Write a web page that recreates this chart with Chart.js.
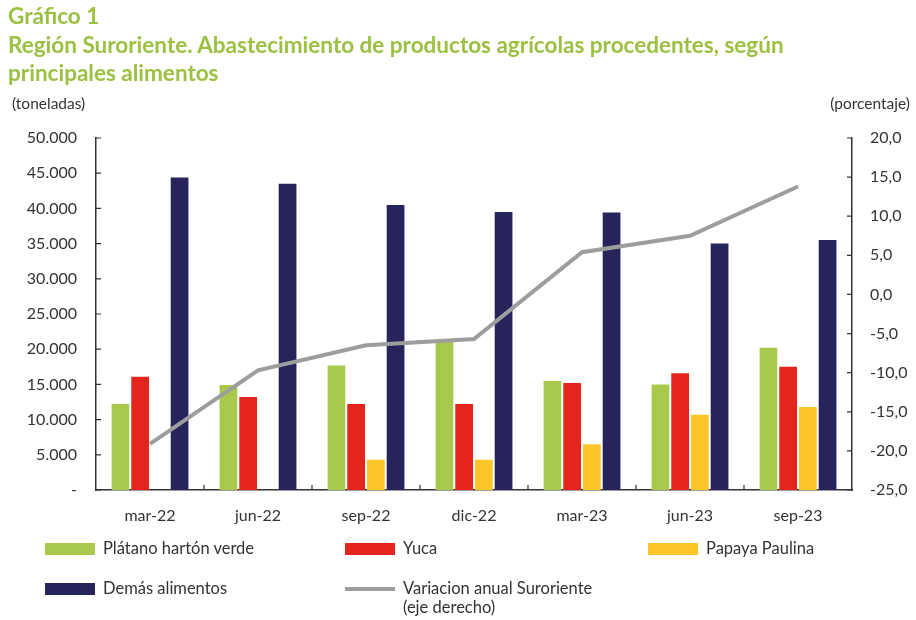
<!DOCTYPE html>
<html>
<head>
<meta charset="utf-8">
<script src="https://cdn.jsdelivr.net/npm/chart.js@4"></script>
<style>
  body { margin: 0; background: #fff; font-family: Lato, "Open Sans", sans-serif; }
  #wrap { position: relative; width: 916px; height: 620px; }
  #grafico { position: absolute; left: 0; top: 0; }
  .titulo { position: absolute; left: 8px; color: #9cc142; font-weight: bold; font-size: 22.5px; white-space: nowrap; }
  .ley { position: absolute; font-size: 16.5px; color: #333; white-space: nowrap; line-height: 19px; }
  .sw { position: absolute; width: 50px; height: 12px; }
</style>
</head>
<body>
<div id="wrap">
  <canvas id="grafico" width="916" height="620"></canvas>
  <div class="titulo" style="top:2px">Gráfico 1</div>
  <div class="titulo" style="top:31px">Región Suroriente. Abastecimiento de productos agrícolas procedentes, según</div>
  <div class="titulo" style="top:59px">principales alimentos</div>
  <div id="leyenda"></div>
</div>
<script>
  // datos
  const categorias = ['mar-22', 'jun-22', 'sep-22', 'dic-22', 'mar-23', 'jun-23', 'sep-23'];
  const platano = [12200, 14900, 17700, 21300, 15500, 15000, 20200];
  const yuca = [16100, 13200, 12200, 12200, 15200, 16600, 17500];
  const papaya = [0, 0, 4300, 4300, 6500, 10700, 11800];
  const demas = [44400, 43500, 40500, 39500, 39400, 35000, 35500];
  const variacion = [-19.1, -9.7, -6.5, -5.7, 5.4, 7.5, 13.8];

  const colores = {
    platano: '#a9c94c',
    yuca: '#e3251d',
    papaya: '#fcc62a',
    demas: '#27245c',
    variacion: '#9d9d9d'
  };

  // marcas cortas hacia dentro + textos de unidades
  const marcasInternas = {
    id: 'marcasInternas',
    afterDraw(chart) {
      const { ctx, chartArea: a, scales } = chart;
      ctx.save();
      ctx.strokeStyle = '#333';
      ctx.lineWidth = 1.2;
      ctx.beginPath();
      scales.y.ticks.forEach(t => {
        const y = scales.y.getPixelForValue(t.value);
        ctx.moveTo(a.left, y); ctx.lineTo(a.left + 5, y);
      });
      scales.y1.ticks.forEach(t => {
        const y = scales.y1.getPixelForValue(t.value);
        ctx.moveTo(a.right, y); ctx.lineTo(a.right - 5, y);
      });
      const paso = (a.right - a.left) / categorias.length;
      for (let i = 1; i < categorias.length; i++) {
        const x = a.left + i * paso;
        ctx.moveTo(x, a.bottom); ctx.lineTo(x, a.bottom - 5);
      }
      ctx.stroke();
      ctx.fillStyle = '#333';
      ctx.font = '15.5px Lato';
      ctx.textBaseline = 'middle';
      ctx.textAlign = 'left';
      ctx.fillText('(toneladas)', 12, 104);
      ctx.textAlign = 'right';
      ctx.fillText('(porcentaje)', 910, 104);
      ctx.restore();
    }
  };

  const ctx = document.getElementById('grafico').getContext('2d');
  new Chart(ctx, {
    data: {
      labels: categorias,
      datasets: [
        { type: 'line', label: 'Variacion anual Suroriente (eje derecho)', data: variacion, yAxisID: 'y1',
          borderColor: colores.variacion, borderWidth: 4, pointRadius: 0, tension: 0, order: 0 },
        { type: 'bar', label: 'Plátano hartón verde', data: platano, backgroundColor: colores.platano, yAxisID: 'y', order: 1 },
        { type: 'bar', label: 'Yuca', data: yuca, backgroundColor: colores.yuca, yAxisID: 'y', order: 1 },
        { type: 'bar', label: 'Papaya Paulina', data: papaya, backgroundColor: colores.papaya, yAxisID: 'y', order: 1 },
        { type: 'bar', label: 'Demás alimentos', data: demas, backgroundColor: colores.demas, yAxisID: 'y', order: 1 }
      ]
    },
    options: {
      responsive: false,
      animation: false,
      layout: { padding: { left: 0, right: 0, top: 138, bottom: 92 } },
      datasets: { bar: { categoryPercentage: 0.73, barPercentage: 0.9 } },
      plugins: {
        legend: { display: false },
        tooltip: { enabled: false }
      },
      scales: {
        x: {
          grid: { display: false },
          border: { color: '#333', width: 1.5 },
          ticks: { color: '#333', font: { family: 'Lato', size: 16 }, padding: 8 },
          afterFit(s) { s.height = 38; }
        },
        y: {
          position: 'left',
          min: 0, max: 50000,
          grid: { display: false },
          border: { color: '#333', width: 1.5 },
          ticks: {
            stepSize: 5000, color: '#333', font: { family: 'Lato', size: 16 }, padding: 11,
            callback: v => v === 0 ? '-' : v.toLocaleString('de-DE')
          },
          afterFit(s) { s.width = 96; }
        },
        y1: {
          position: 'right',
          min: -25, max: 20,
          grid: { display: false },
          border: { color: '#333', width: 1.5 },
          ticks: {
            stepSize: 5, color: '#333', font: { family: 'Lato', size: 16 }, padding: 10,
            callback: v => v.toFixed(1).replace('.', ',')
          },
          afterFit(s) { s.width = 64; }
        }
      }
    },
    plugins: [marcasInternas]
  });

  // leyenda en dos filas como en el original
  const leyenda = [
    { txt: 'Plátano hartón verde', color: colores.platano, x: 45, y: 539 },
    { txt: 'Yuca', color: colores.yuca, x: 345, y: 539 },
    { txt: 'Papaya Paulina', color: colores.papaya, x: 648, y: 539 },
    { txt: 'Demás alimentos', color: colores.demas, x: 45, y: 579 },
    { txt: 'Variacion anual Suroriente<br>(eje derecho)', color: colores.variacion, x: 345, y: 579, linea: true }
  ];
  const cont = document.getElementById('leyenda');
  leyenda.forEach(l => {
    const sw = document.createElement('div');
    sw.className = 'sw';
    sw.style.left = l.x + 'px';
    sw.style.top = (l.linea ? l.y + 8 : l.y + 4) + 'px';
    sw.style.height = l.linea ? '4px' : '12px';
    sw.style.background = l.color;
    cont.appendChild(sw);
    const t = document.createElement('div');
    t.className = 'ley';
    t.style.left = (l.x + 58) + 'px';
    t.style.top = l.y + 'px';
    t.innerHTML = l.txt;
    cont.appendChild(t);
  });
</script>
</body>
</html>
